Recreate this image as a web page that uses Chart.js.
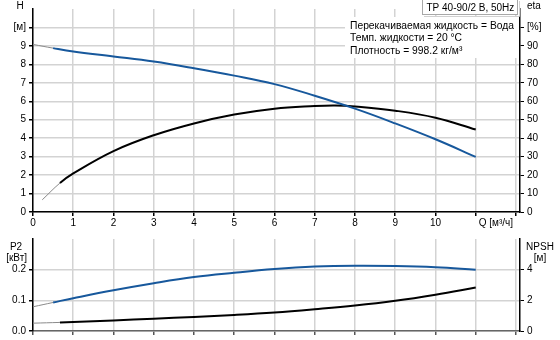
<!DOCTYPE html>
<html><head><meta charset="utf-8">
<script src="https://cdn.jsdelivr.net/npm/chart.js@4/dist/chart.umd.min.js"></script>
<style>
html,body{margin:0;padding:0;background:#fff;}
#wrap{position:relative;width:560px;height:340px;overflow:hidden;}
#c1{position:absolute;left:0;top:0;}
#c2{position:absolute;left:0;top:230px;}
</style></head><body>
<div id="wrap"><canvas id="c1" width="560" height="230"></canvas><canvas id="c2" width="560" height="110"></canvas></div>
<script>
// ---- data ----
const qHead = [0, 0.5, 1, 2, 3, 4, 5, 6, 7, 8, 9, 10, 11];
const headH = [9.08, 8.88, 8.70, 8.43, 8.15, 7.79, 7.39, 6.93, 6.30, 5.60, 4.80, 3.94, 2.99];
const qEta = [0.23, 0.67, 1, 2, 3, 4, 5, 6, 7, 7.5, 8, 9, 10, 11];
const etaPct = [6.6, 15.7, 20.9, 33.0, 41.6, 48.0, 52.8, 56.0, 57.4, 57.7, 57.2, 54.9, 51.1, 44.7];
const qP2 = [0, 0.5, 1, 2, 3, 4, 5, 6, 7, 8, 9, 10, 11];
const powerP2 = [0.079, 0.093, 0.107, 0.133, 0.156, 0.176, 0.190, 0.202, 0.210, 0.213, 0.212, 0.208, 0.200];
const qNpsh = [0, 0.67, 1, 2, 3, 4, 5, 6, 7, 8, 9, 10, 11];
const npshM = [0.51, 0.56, 0.59, 0.69, 0.80, 0.92, 1.05, 1.21, 1.42, 1.66, 1.97, 2.37, 2.84];

const xTickLabels = ['0','1','2','3','4','5','6','7','8','9','10'];
const xTitle = 'Q [м³/ч]';
const headTitle = ['H', '[м]'];
const etaTitle = ['eta', '[%]'];
const p2Title = ['P2', '[кВт]'];
const npshTitle = ['NPSH', '[м]'];
const pumpTitle = 'TP 40-90/2 B, 50Hz';
const infoLines = ['Перекачиваемая жидкость = Вода', 'Темп. жидкости = 20 °C', 'Плотность = 998.2 кг/м³'];

// ---- styles ----
const BLUE = '#17589c';
const GRID = '#d3d3d3';
const FONTFAM = "'Liberation Sans', Arial, sans-serif";
Chart.defaults.font.family = FONTFAM;
Chart.defaults.font.size = 10;
Chart.defaults.color = '#000';

function pts(xs, ys){ return xs.map((x,i)=>({x:x, y:ys[i]})); }
function lineDs(xs, ys, axis, color, thinUntil){
  return {
    data: pts(xs, ys), yAxisID: axis, borderColor: color, borderWidth: 2,
    pointRadius: 0, fill: false, tension: 0.4,
    segment: {
      borderWidth: c => (c.p1.parsed.x <= thinUntil + 1e-6 ? 1 : undefined),
      borderColor: c => (c.p1.parsed.x <= thinUntil + 1e-6 ? '#8a8a8a' : undefined)
    }
  };
}
function intTicks(from, to, step){ const a=[]; for(let v=from; v<=to+1e-9; v+=step) a.push({value: Math.round(v*1000)/1000}); return a; }

const topDecor = {
  id: 'topDecor',
  beforeDatasetsDraw(chart){
    const c = chart.ctx;
    c.save(); c.fillStyle = '#fff';
    c.fillRect(345, 17, 174, 41);
    c.restore();
  },
  afterDraw(chart){
    const c = chart.ctx, x = chart.scales.x, ca = chart.chartArea;
    c.save();
    c.font = '10px ' + FONTFAM; c.fillStyle = '#000'; c.textBaseline = 'middle';
    c.textAlign = 'center';
    c.fillText(headTitle[0], 20, 6);
    c.textAlign = 'left';
    c.fillText(etaTitle[0], ca.right + 7, 6);
    c.textAlign = 'center';
    c.fillText(xTitle, x.getPixelForValue(11.5), 223);
    // pump title box
    c.fillStyle = '#fff'; c.fillRect(422, 0, 96, 15);
    c.strokeStyle = '#a8a8a8'; c.lineWidth = 1; c.strokeRect(422.5, -0.5, 95, 15);
    c.strokeStyle = '#d0d0d0'; c.beginPath(); c.moveTo(519.5, 1); c.lineTo(519.5, 16.5); c.lineTo(424, 16.5); c.stroke();
    c.fillStyle = '#000'; c.textAlign = 'left';
    c.fillText(pumpTitle, 426.5, 8);
    c.font = '10.3px ' + FONTFAM;
    infoLines.forEach((t,i)=> c.fillText(t, 350, 26 + i*12.6));
    c.restore();
  }
};

new Chart(document.getElementById('c1'), {
  type: 'line',
  data: { datasets: [
    lineDs(qHead, headH, 'yH', BLUE, 0.5),
    lineDs(qEta, etaPct, 'yEta', '#000', 0.67)
  ]},
  options: {
    responsive: false, animation: false, layout: {padding: 0},
    plugins: {legend: {display: false}, tooltip: {enabled: false}},
    scales: {
      x: { type: 'linear', position: 'bottom', min: 0, max: 12.1,
        afterBuildTicks: s => { s.ticks = intTicks(0, 12, 1); },
        ticks: { autoSkip: false, maxRotation: 0, padding: 1,
          callback: v => (v <= 10 ? xTickLabels[v] : '') },
        grid: { color: GRID, lineWidth: 1.5, tickLength: 4, tickColor: '#000' },
        border: { color: '#000', width: 1.5 },
        afterFit: s => { s.height = 18; } },
      yH: { type: 'linear', position: 'left', min: 0, max: 11,
        afterBuildTicks: s => { s.ticks = intTicks(0, 11, 1); },
        ticks: { padding: 3, callback: v => (v <= 9 ? String(v) : (v === 10 ? headTitle[1] : '')) },
        grid: { color: c => (c.tick && c.tick.value === 11 ? 'rgba(0,0,0,0)' : GRID), lineWidth: 1.5, tickLength: 4,
                tickColor: c => (c.tick && c.tick.value === 11 ? 'rgba(0,0,0,0)' : '#000') },
        border: { color: '#000', width: 1.5 },
        afterFit: s => { s.width = 33; } },
      yEta: { type: 'linear', position: 'right', min: 0, max: 110,
        afterBuildTicks: s => { s.ticks = intTicks(0, 110, 10); },
        ticks: { padding: 3, callback: v => (v <= 90 ? String(v) : (v === 100 ? etaTitle[1] : '')) },
        grid: { drawOnChartArea: false, tickLength: 4,
                tickColor: c => (c.tick && c.tick.value === 110 ? 'rgba(0,0,0,0)' : '#000') },
        border: { color: '#000', width: 1.5 },
        afterFit: s => { s.width = 40; } }
    }
  },
  plugins: [topDecor]
});

const botDecor = {
  id: 'botDecor',
  afterDraw(chart){
    const c = chart.ctx, ca = chart.chartArea;
    c.save();
    c.font = '10px ' + FONTFAM; c.fillStyle = '#000'; c.textBaseline = 'middle';
    c.textAlign = 'center';
    c.fillText(p2Title[0], 16, ca.top + 8);
    c.textAlign = 'right';
    c.fillText(p2Title[1], 27, ca.top + 19);
    c.textAlign = 'center';
    c.fillText(npshTitle[0], ca.right + 20, ca.top + 8);
    c.fillText(npshTitle[1], ca.right + 20, ca.top + 19);
    c.restore();
  }
};

new Chart(document.getElementById('c2'), {
  type: 'line',
  data: { datasets: [
    lineDs(qP2, powerP2, 'yP', BLUE, 0.5),
    lineDs(qNpsh, npshM, 'yN', '#000', 0.67)
  ]},
  options: {
    responsive: false, animation: false, layout: {padding: 0},
    plugins: {legend: {display: false}, tooltip: {enabled: false}},
    scales: {
      x: { type: 'linear', position: 'bottom', min: 0, max: 12.1,
        afterBuildTicks: s => { s.ticks = intTicks(0, 12, 1); },
        ticks: { display: false },
        grid: { color: GRID, lineWidth: 1.5, tickLength: 4, tickColor: '#555' },
        border: { color: '#666', width: 1.5 },
        afterFit: s => { s.height = 8; } },
      yP: { type: 'linear', position: 'left', min: 0, max: 0.3,
        afterBuildTicks: s => { s.ticks = intTicks(0, 0.3, 0.1); },
        ticks: { padding: 3, callback: v => (v < 0.25 ? v.toFixed(1) : '') },
        grid: { color: c => (c.tick && c.tick.value > 0.25 ? 'rgba(0,0,0,0)' : GRID), lineWidth: 1.5, tickLength: 4,
                tickColor: c => (c.tick && c.tick.value > 0.25 ? 'rgba(0,0,0,0)' : '#000') },
        border: { color: '#000', width: 1.5 },
        afterFit: s => { s.width = 33; } },
      yN: { type: 'linear', position: 'right', min: 0, max: 6,
        afterBuildTicks: s => { s.ticks = intTicks(0, 6, 2); },
        ticks: { padding: 3, callback: v => (v <= 4 ? String(v) : '') },
        grid: { drawOnChartArea: false, tickLength: 4,
                tickColor: c => (c.tick && c.tick.value > 5 ? 'rgba(0,0,0,0)' : '#000') },
        border: { color: '#000', width: 1.5 },
        afterFit: s => { s.width = 40; } }
    }
  },
  plugins: [botDecor]
});
</script>
</body></html>
